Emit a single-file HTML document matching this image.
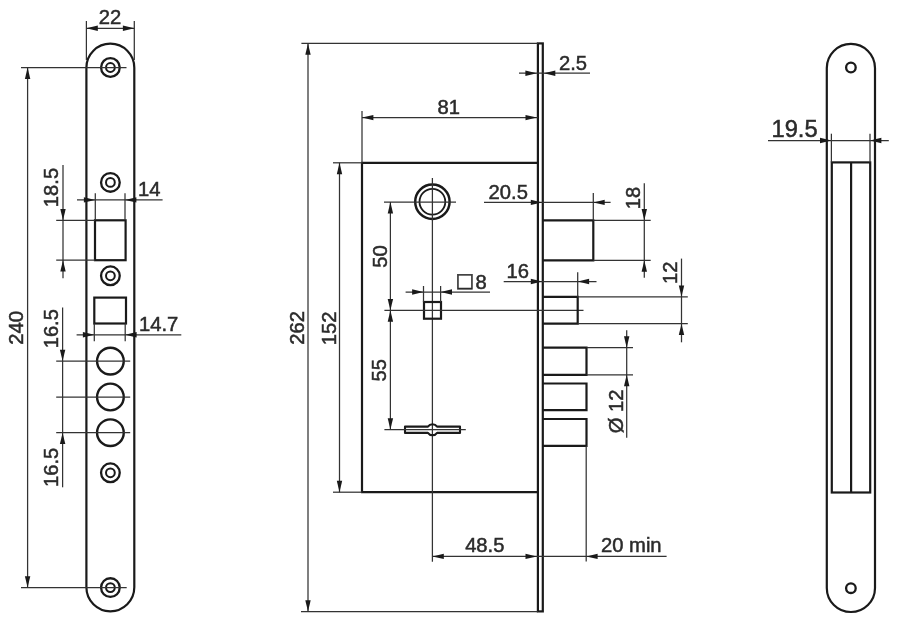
<!DOCTYPE html>
<html lang="en">
<head>
<meta charset="utf-8">
<title>Mortise lock dimensions</title>
<style>
html,body{margin:0;padding:0;background:#fff;}
svg{display:block;will-change:transform;}
text{font-family:"Liberation Sans",Arial,sans-serif;fill:#2b2b2b;stroke:#2b2b2b;stroke-width:0.5px;}
</style>
</head>
<body>
<svg width="900" height="617" viewBox="0 0 900 617">
<rect width="900" height="617" fill="#ffffff"/>
<rect x="86.4" y="43.7" width="47.9" height="567.6" rx="23.950000000000003" fill="none" stroke="#1a1a1a" stroke-width="2.2"/>
<circle cx="110.4" cy="67.5" r="9.35" fill="none" stroke="#1a1a1a" stroke-width="2.3"/>
<circle cx="110.4" cy="67.5" r="4.4" fill="none" stroke="#1a1a1a" stroke-width="2.0"/>
<circle cx="110.4" cy="182.4" r="9.35" fill="none" stroke="#1a1a1a" stroke-width="2.3"/>
<circle cx="110.4" cy="182.4" r="4.4" fill="none" stroke="#1a1a1a" stroke-width="2.0"/>
<circle cx="110.4" cy="275.8" r="9.35" fill="none" stroke="#1a1a1a" stroke-width="2.3"/>
<circle cx="110.4" cy="275.8" r="4.4" fill="none" stroke="#1a1a1a" stroke-width="2.0"/>
<circle cx="110.4" cy="472.8" r="9.35" fill="none" stroke="#1a1a1a" stroke-width="2.3"/>
<circle cx="110.4" cy="472.8" r="4.4" fill="none" stroke="#1a1a1a" stroke-width="2.0"/>
<circle cx="110.4" cy="587.6" r="9.35" fill="none" stroke="#1a1a1a" stroke-width="2.3"/>
<circle cx="110.4" cy="587.6" r="4.4" fill="none" stroke="#1a1a1a" stroke-width="2.0"/>
<rect x="95.0" y="220.3" width="30.6" height="39.9" rx="0" fill="none" stroke="#1a1a1a" stroke-width="2.2"/>
<rect x="94.3" y="297.6" width="31.7" height="25.9" rx="0" fill="none" stroke="#1a1a1a" stroke-width="2.2"/>
<circle cx="110.4" cy="361.1" r="13.35" fill="none" stroke="#1a1a1a" stroke-width="2.4"/>
<line x1="56.2" y1="361.1" x2="130.2" y2="361.1" stroke="#333" stroke-width="1.25"/>
<circle cx="110.4" cy="397.0" r="13.35" fill="none" stroke="#1a1a1a" stroke-width="2.4"/>
<line x1="56.2" y1="397.0" x2="130.2" y2="397.0" stroke="#333" stroke-width="1.25"/>
<circle cx="110.4" cy="432.7" r="13.35" fill="none" stroke="#1a1a1a" stroke-width="2.4"/>
<line x1="56.2" y1="432.7" x2="130.2" y2="432.7" stroke="#333" stroke-width="1.25"/>
<line x1="86.4" y1="21" x2="86.4" y2="60" stroke="#333" stroke-width="1.25"/>
<line x1="134.3" y1="21" x2="134.3" y2="60" stroke="#333" stroke-width="1.25"/>
<line x1="86.4" y1="28.3" x2="134.3" y2="28.3" stroke="#333" stroke-width="1.25"/>
<polygon points="86.4,28.3 97.8,25.6 97.8,31.0" fill="#1a1a1a"/>
<polygon points="134.3,28.3 122.9,25.6 122.9,31.0" fill="#1a1a1a"/>
<text x="110.0" y="24.2" font-size="20.2" text-anchor="middle">22</text>
<line x1="21" y1="67.6" x2="126.5" y2="67.6" stroke="#333" stroke-width="1.25"/>
<line x1="21" y1="587.6" x2="126.7" y2="587.6" stroke="#333" stroke-width="1.25"/>
<line x1="27.6" y1="67.6" x2="27.6" y2="587.6" stroke="#333" stroke-width="1.25"/>
<polygon points="27.6,67.6 24.9,79.0 30.3,79.0" fill="#1a1a1a"/>
<polygon points="27.6,587.6 24.9,576.2 30.3,576.2" fill="#1a1a1a"/>
<text transform="translate(22.8 327.8) rotate(-90)" font-size="20.2" text-anchor="middle">240</text>
<line x1="77" y1="199.9" x2="162.6" y2="199.9" stroke="#333" stroke-width="1.25"/>
<polygon points="95.3,199.9 83.9,197.2 83.9,202.6" fill="#1a1a1a"/>
<polygon points="125.0,199.9 136.4,197.2 136.4,202.6" fill="#1a1a1a"/>
<line x1="95.3" y1="193.2" x2="95.3" y2="220" stroke="#333" stroke-width="1.25"/>
<line x1="125.0" y1="193.2" x2="125.0" y2="220" stroke="#333" stroke-width="1.25"/>
<text x="138.0" y="196" font-size="20.2" text-anchor="start">14</text>
<line x1="56.2" y1="220.3" x2="95" y2="220.3" stroke="#333" stroke-width="1.25"/>
<line x1="56.2" y1="260.2" x2="95" y2="260.2" stroke="#333" stroke-width="1.25"/>
<line x1="63" y1="165" x2="63" y2="278.3" stroke="#333" stroke-width="1.25"/>
<polygon points="63.0,220.3 60.3,208.9 65.7,208.9" fill="#1a1a1a"/>
<polygon points="63.0,260.2 60.3,271.6 65.7,271.6" fill="#1a1a1a"/>
<text transform="translate(57.7 187.5) rotate(-90)" font-size="20.2" text-anchor="middle">18.5</text>
<line x1="76.6" y1="334.8" x2="181.3" y2="334.8" stroke="#333" stroke-width="1.25"/>
<polygon points="94.3,334.8 82.9,332.1 82.9,337.5" fill="#1a1a1a"/>
<polygon points="125.2,334.8 136.6,332.1 136.6,337.5" fill="#1a1a1a"/>
<line x1="94.3" y1="323.5" x2="94.3" y2="341.3" stroke="#333" stroke-width="1.25"/>
<line x1="125.2" y1="323.5" x2="125.2" y2="341.3" stroke="#333" stroke-width="1.25"/>
<text x="139.0" y="330.7" font-size="20.2" text-anchor="start">14.7</text>
<line x1="62.6" y1="307.5" x2="62.6" y2="487.3" stroke="#333" stroke-width="1.25"/>
<polygon points="62.6,361.1 59.9,349.7 65.3,349.7" fill="#1a1a1a"/>
<polygon points="62.6,432.7 59.9,444.1 65.3,444.1" fill="#1a1a1a"/>
<text transform="translate(57.7 328.7) rotate(-90)" font-size="20.2" text-anchor="middle">16.5</text>
<text transform="translate(57.7 467.3) rotate(-90)" font-size="20.2" text-anchor="middle">16.5</text>
<rect x="537.9" y="43.4" width="4.9" height="568.0" rx="0" fill="none" stroke="#1a1a1a" stroke-width="2.2"/>
<polyline points="537.9,162.8 362.0,162.8 362.0,492.2 537.9,492.2" fill="none" stroke="#1a1a1a" stroke-width="2.2"/>
<line x1="301.4" y1="43.4" x2="537.9" y2="43.4" stroke="#333" stroke-width="1.25"/>
<line x1="301" y1="611.6" x2="537.9" y2="611.6" stroke="#333" stroke-width="1.25"/>
<line x1="308" y1="43.4" x2="308" y2="611.6" stroke="#333" stroke-width="1.25"/>
<polygon points="308.0,43.4 305.3,54.8 310.7,54.8" fill="#1a1a1a"/>
<polygon points="308.0,611.6 305.3,600.2 310.7,600.2" fill="#1a1a1a"/>
<text transform="translate(303.8 327.9) rotate(-90)" font-size="20.2" text-anchor="middle">262</text>
<line x1="333" y1="162.8" x2="362.0" y2="162.8" stroke="#333" stroke-width="1.25"/>
<line x1="333" y1="492.2" x2="362.0" y2="492.2" stroke="#333" stroke-width="1.25"/>
<line x1="339.5" y1="162.8" x2="339.5" y2="492.2" stroke="#333" stroke-width="1.25"/>
<polygon points="339.5,162.8 336.8,174.2 342.2,174.2" fill="#1a1a1a"/>
<polygon points="339.5,492.2 336.8,480.8 342.2,480.8" fill="#1a1a1a"/>
<text transform="translate(335.6 328.3) rotate(-90)" font-size="20.2" text-anchor="middle">152</text>
<line x1="362.0" y1="111" x2="362.0" y2="162.8" stroke="#333" stroke-width="1.25"/>
<line x1="362.0" y1="117.6" x2="537.9" y2="117.6" stroke="#333" stroke-width="1.25"/>
<polygon points="362.0,117.6 373.4,114.9 373.4,120.3" fill="#1a1a1a"/>
<polygon points="536.9,117.6 525.5,114.9 525.5,120.3" fill="#1a1a1a"/>
<text x="448.8" y="113.6" font-size="20.2" text-anchor="middle">81</text>
<line x1="519" y1="73.2" x2="590" y2="73.2" stroke="#333" stroke-width="1.25"/>
<polygon points="536.8,73.2 525.4,70.5 525.4,75.9" fill="#1a1a1a"/>
<polygon points="543.9,73.2 555.3,70.5 555.3,75.9" fill="#1a1a1a"/>
<text x="559" y="69.5" font-size="20.2" text-anchor="start">2.5</text>
<circle cx="432.4" cy="201.8" r="17.2" fill="none" stroke="#1a1a1a" stroke-width="2.5"/>
<circle cx="432.4" cy="201.8" r="12.9" fill="none" stroke="#1a1a1a" stroke-width="1.8"/>
<line x1="384" y1="202.0" x2="456" y2="202.0" stroke="#333" stroke-width="1.25"/>
<line x1="432.4" y1="178" x2="432.4" y2="561.8" stroke="#333" stroke-width="1.25"/>
<line x1="390.4" y1="202.0" x2="390.4" y2="429.6" stroke="#333" stroke-width="1.25"/>
<polygon points="390.4,202.0 387.7,213.4 393.1,213.4" fill="#1a1a1a"/>
<polygon points="390.4,310.3 387.7,298.9 393.1,298.9" fill="#1a1a1a"/>
<polygon points="390.4,310.3 387.7,321.7 393.1,321.7" fill="#1a1a1a"/>
<polygon points="390.4,429.6 387.7,418.2 393.1,418.2" fill="#1a1a1a"/>
<text transform="translate(386.6 256.5) rotate(-90)" font-size="20.2" text-anchor="middle">50</text>
<text transform="translate(386.0 370.3) rotate(-90)" font-size="20.2" text-anchor="middle">55</text>
<rect x="424.0" y="302.0" width="17.0" height="16.7" rx="0" fill="none" stroke="#1a1a1a" stroke-width="2.2"/>
<line x1="384.4" y1="310.3" x2="583.5" y2="310.3" stroke="#333" stroke-width="1.25"/>
<line x1="405.6" y1="292" x2="490" y2="292" stroke="#333" stroke-width="1.25"/>
<polygon points="423.5,292.0 412.1,289.3 412.1,294.7" fill="#1a1a1a"/>
<polygon points="440.6,292.0 452.0,289.3 452.0,294.7" fill="#1a1a1a"/>
<line x1="423.5" y1="286" x2="423.5" y2="302" stroke="#333" stroke-width="1.25"/>
<line x1="440.6" y1="286" x2="440.6" y2="302" stroke="#333" stroke-width="1.25"/>
<text x="455.6" y="287.2" font-size="19.6" style="font-family:'DejaVu Sans',sans-serif">□</text>
<text x="475.5" y="289" font-size="20.2" text-anchor="start">8</text>
<path d="M405,426.6 H427.9 A5.6,5.6 0 0 1 437.1,426.6 H460 V432.9 H437.1 A5.6,5.6 0 0 1 427.9,432.9 H405 Z" fill="none" stroke="#1a1a1a" stroke-width="2.1" stroke-linejoin="round"/>
<line x1="384.4" y1="429.6" x2="465.8" y2="429.6" stroke="#333" stroke-width="1.25"/>
<polyline points="542.8,220.3 593.3,220.3 593.3,260.4 542.8,260.4" fill="none" stroke="#1a1a1a" stroke-width="2.2"/>
<polyline points="542.8,296.8 577.7,296.8 577.7,323.7 542.8,323.7" fill="none" stroke="#1a1a1a" stroke-width="2.2"/>
<polyline points="542.8,347.7 586.5,347.7 586.5,374.8 542.8,374.8" fill="none" stroke="#1a1a1a" stroke-width="2.2"/>
<polyline points="542.8,383.5 586.5,383.5 586.5,410.1 542.8,410.1" fill="none" stroke="#1a1a1a" stroke-width="2.2"/>
<polyline points="542.8,419.0 586.5,419.0 586.5,445.8 542.8,445.8" fill="none" stroke="#1a1a1a" stroke-width="2.2"/>
<line x1="484" y1="202.4" x2="610.6" y2="202.4" stroke="#333" stroke-width="1.25"/>
<polygon points="542.2,202.4 530.8,199.7 530.8,205.1" fill="#1a1a1a"/>
<polygon points="593.3,202.4 604.7,199.7 604.7,205.1" fill="#1a1a1a"/>
<line x1="593.3" y1="193" x2="593.3" y2="220" stroke="#333" stroke-width="1.25"/>
<text x="488.6" y="199.1" font-size="20.2" text-anchor="start">20.5</text>
<line x1="593.3" y1="220.3" x2="650.7" y2="220.3" stroke="#333" stroke-width="1.25"/>
<line x1="593.3" y1="260.4" x2="650.7" y2="260.4" stroke="#333" stroke-width="1.25"/>
<line x1="644.3" y1="183.2" x2="644.3" y2="277.8" stroke="#333" stroke-width="1.25"/>
<polygon points="644.3,220.3 641.6,208.9 647.0,208.9" fill="#1a1a1a"/>
<polygon points="644.3,260.4 641.6,271.8 647.0,271.8" fill="#1a1a1a"/>
<text transform="translate(640.0 197.9) rotate(-90)" font-size="20.2" text-anchor="middle">18</text>
<line x1="503.7" y1="281.5" x2="596.5" y2="281.5" stroke="#333" stroke-width="1.25"/>
<polygon points="542.2,281.5 530.8,278.8 530.8,284.2" fill="#1a1a1a"/>
<polygon points="577.7,281.5 589.1,278.8 589.1,284.2" fill="#1a1a1a"/>
<line x1="577.7" y1="272.2" x2="577.7" y2="296.8" stroke="#333" stroke-width="1.25"/>
<text x="506.6" y="277.5" font-size="20.2" text-anchor="start">16</text>
<line x1="577.7" y1="296.8" x2="687.8" y2="296.8" stroke="#333" stroke-width="1.25"/>
<line x1="577.7" y1="323.7" x2="687.8" y2="323.7" stroke="#333" stroke-width="1.25"/>
<line x1="681.5" y1="258.6" x2="681.5" y2="342.3" stroke="#333" stroke-width="1.25"/>
<polygon points="681.5,296.8 678.8,285.4 684.2,285.4" fill="#1a1a1a"/>
<polygon points="681.5,323.7 678.8,335.1 684.2,335.1" fill="#1a1a1a"/>
<text transform="translate(677.0 272.7) rotate(-90)" font-size="20.2" text-anchor="middle">12</text>
<line x1="586.5" y1="347.7" x2="633" y2="347.7" stroke="#333" stroke-width="1.25"/>
<line x1="586.5" y1="374.8" x2="633" y2="374.8" stroke="#333" stroke-width="1.25"/>
<line x1="626.7" y1="330.2" x2="626.7" y2="437.7" stroke="#333" stroke-width="1.25"/>
<polygon points="626.7,347.7 624.0,336.3 629.4,336.3" fill="#1a1a1a"/>
<polygon points="626.7,374.8 624.0,386.2 629.4,386.2" fill="#1a1a1a"/>
<text transform="translate(622.5 411.4) rotate(-90)" font-size="20.2" text-anchor="middle">Ø 12</text>
<line x1="432.4" y1="556.4" x2="666.6" y2="556.4" stroke="#333" stroke-width="1.25"/>
<polygon points="432.4,556.4 443.8,553.7 443.8,559.1" fill="#1a1a1a"/>
<polygon points="536.9,556.4 525.5,553.7 525.5,559.1" fill="#1a1a1a"/>
<polygon points="586.2,556.4 597.6,553.7 597.6,559.1" fill="#1a1a1a"/>
<line x1="586.2" y1="445.8" x2="586.2" y2="561.6" stroke="#333" stroke-width="1.25"/>
<text x="484.8" y="552" font-size="20.2" text-anchor="middle">48.5</text>
<text x="601.0" y="552" font-size="20.2" text-anchor="start">20 min</text>
<rect x="826.8" y="43.9" width="48.2" height="568.1" rx="24.100000000000023" fill="none" stroke="#1a1a1a" stroke-width="2.2"/>
<circle cx="850.9" cy="67.5" r="4.8" fill="none" stroke="#1a1a1a" stroke-width="2.3"/>
<circle cx="850.9" cy="588.2" r="4.8" fill="none" stroke="#1a1a1a" stroke-width="2.3"/>
<rect x="831.8" y="162.4" width="38.4" height="330.1" rx="0" fill="none" stroke="#1a1a1a" stroke-width="2.2"/>
<line x1="851.1" y1="162.4" x2="851.1" y2="492.5" stroke="#1a1a1a" stroke-width="2.2"/>
<line x1="768" y1="140.5" x2="888.8" y2="140.5" stroke="#333" stroke-width="1.25"/>
<polygon points="831.4,140.5 820.0,137.8 820.0,143.2" fill="#1a1a1a"/>
<polygon points="870.0,140.5 881.4,137.8 881.4,143.2" fill="#1a1a1a"/>
<line x1="831.4" y1="133.7" x2="831.4" y2="162.4" stroke="#333" stroke-width="1.25"/>
<line x1="870.0" y1="133.7" x2="870.0" y2="162.4" stroke="#333" stroke-width="1.25"/>
<text x="771.5" y="136.6" font-size="23.7" text-anchor="start">19.5</text>
</svg>
</body>
</html>
